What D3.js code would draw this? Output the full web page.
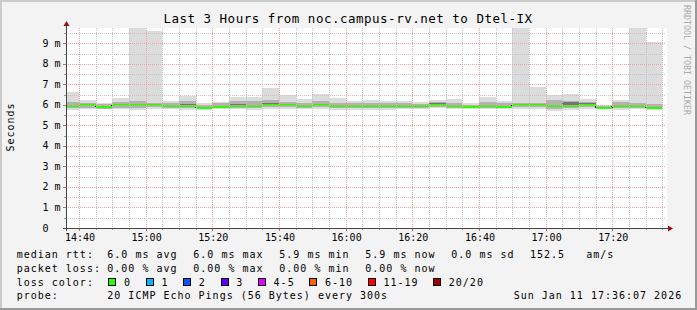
<!DOCTYPE html>
<html>
<head>
<meta charset="utf-8">
<script src="https://cdnjs.cloudflare.com/ajax/libs/d3/7.8.5/d3.min.js"></script>
<style>
body { margin: 0; background: #fff; }
text { font-family: "DejaVu Sans Mono", monospace; fill: #000; }
.leg { font-size: 10px; letter-spacing: 1px; }
.tick { font-size: 10px; }
</style>
</head>
<body>
<script>
// 5 minute slots, 14:35 .. 17:30 (values in ms)
var median = [5.95,5.98,5.90,5.98,5.98,5.98,5.95,5.95,5.87,5.92,5.96,5.94,5.98,5.98,5.95,5.98,5.95,5.96,
              5.96,5.96,5.96,5.96,6.00,5.96,5.90,5.93,5.90,5.98,5.98,5.95,5.95,6.00,5.87,5.94,5.93,5.87];
var pingMin = [5.76,5.80,5.80,5.80,5.78,5.80,5.80,5.78,5.78,5.80,5.80,5.76,5.80,5.82,5.80,5.82,5.78,5.76,
               5.78,5.78,5.80,5.80,5.84,5.80,5.80,5.80,5.80,5.82,5.82,5.72,5.78,5.80,5.82,5.78,5.80,5.74];
var pingLo = [5.84,5.86,5.82,5.86,5.86,5.88,5.86,5.85,5.82,5.84,5.86,5.84,5.88,5.88,5.86,5.88,5.83,5.84,
              5.84,5.85,5.86,5.86,5.90,5.86,5.83,5.84,5.83,5.88,5.88,5.82,5.85,5.88,5.84,5.84,5.86,5.80];
var coreLo = [5.90,5.94,5.86,5.94,5.93,5.95,5.92,5.92,5.85,5.89,5.93,5.90,5.95,5.94,5.92,5.96,5.90,5.92,
              5.91,5.92,5.92,5.92,5.97,5.93,5.86,5.90,5.87,5.95,5.95,5.90,5.93,5.96,5.86,5.90,5.91,5.85];
var coreHi = [6.02,6.04,5.95,6.04,6.03,6.02,5.99,6.05,5.92,5.97,6.05,6.00,6.10,6.04,6.00,6.06,6.00,6.00,
              6.00,6.00,6.00,5.99,6.10,6.02,5.94,6.00,5.95,6.02,6.03,6.02,6.16,6.08,5.92,6.00,5.98,5.92];
var pingHi = [6.14,6.12,6.05,6.15,6.20,6.10,6.10,6.18,6.02,6.08,6.20,6.18,6.25,6.15,6.12,6.20,6.12,6.10,
              6.12,6.10,6.08,6.06,6.14,6.12,6.02,6.15,6.08,6.10,6.12,6.22,6.20,6.15,5.96,6.15,6.10,6.05];
var pingMax = [6.65,6.24,6.08,6.36,12.0,9.61,6.21,6.45,6.10,6.15,6.40,6.39,6.83,6.49,6.29,6.54,6.34,6.20,
               6.24,6.20,6.20,6.13,6.24,6.29,6.10,6.39,6.20,12.0,6.88,6.47,6.54,6.29,5.99,6.24,12.0,9.06];

var yTicks = [0, 1, 2, 3, 4, 5, 6, 7, 8, 9];
var timeLabels = ["14:40","15:00","15:20","15:40","16:00","16:20","16:40","17:00","17:20"];
var rttStats = ["6.0 ms avg", "6.0 ms max", "5.9 ms min", "5.9 ms now", "0.0 ms sd"];
var lossStats = ["0.00 % avg", "0.00 % max", "0.00 % min", "0.00 % now"];
var lossLabels = ["0", "1", "2", "3", "4-5", "6-10", "11-19", "20/20"];
var lossColors = ["#26ff00", "#00b8ff", "#0059ff", "#5e00ff", "#e600ff", "#ff5e00", "#ff0000", "#a10000"];

var W = 697, H = 310;
var pL = 66, pR = 666, pT = 28, pB = 228;

var t0 = new Date(Date.UTC(2026, 0, 11, 14, 36, 7));
var t1 = new Date(Date.UTC(2026, 0, 11, 17, 36, 7));
var slotStart = d3.utcMinute.every(5).range(new Date(Date.UTC(2026, 0, 11, 14, 35)), new Date(Date.UTC(2026, 0, 11, 17, 35)));

var x = d3.scaleUtc().domain([t0, t1]).range([pL, pR]);
var y = d3.scaleLinear().domain([0, 9.756]).range([pB, pT]);

var svg = d3.select("body").append("svg").attr("width", W).attr("height", H);

svg.append("rect").attr("width", W).attr("height", H).attr("fill", "#f3f3f3");
svg.append("path").attr("d", "M0,1H" + W + "M1,0V" + H).attr("stroke", "#cbcbcb").attr("stroke-width", 2);
svg.append("path").attr("d", "M0," + (H - 1) + "H" + W + "M" + (W - 1) + ",0V" + H).attr("stroke", "#999").attr("stroke-width", 2);

svg.append("rect").attr("x", pL).attr("y", pT).attr("width", pR - pL + 1).attr("height", pB - pT).attr("fill", "#fff");

svg.append("defs").append("clipPath").attr("id", "plot")
  .append("rect").attr("x", pL).attr("y", pT).attr("width", pR - pL).attr("height", pB - pT);

var g = svg.append("g").attr("clip-path", "url(#plot)").attr("shape-rendering", "crispEdges");

function x0(i) { return Math.round(x(slotStart[i])); }
function x1(i) { return Math.round(x(d3.utcMinute.offset(slotStart[i], 5))); }

function band(lo, hi, color) {
  g.selectAll(null).data(slotStart).enter().append("rect")
    .attr("x", (d, i) => x0(i))
    .attr("width", (d, i) => x1(i) - x0(i))
    .attr("y", (d, i) => Math.round(y(hi[i])))
    .attr("height", (d, i) => Math.max(0, Math.round(y(lo[i])) - Math.round(y(hi[i]))))
    .attr("fill", color);
}
band(pingMin, pingMax, "#dcdcdc");
band(pingLo, pingHi, "#b2b2b2");
band(coreLo, coreHi, "#747474");

// median: black steps, green (0 loss) segments
g.selectAll(null).data(slotStart.slice(1)).enter().append("line")
  .attr("x1", (d, i) => x0(i + 1)).attr("x2", (d, i) => x0(i + 1))
  .attr("y1", (d, i) => Math.round(y(median[i]))).attr("y2", (d, i) => Math.round(y(median[i + 1])))
  .attr("stroke", "#111").attr("stroke-width", 2);
g.selectAll(null).data(slotStart).enter().append("rect")
  .attr("x", (d, i) => x0(i)).attr("width", (d, i) => x1(i) - x0(i))
  .attr("y", (d, i) => Math.round(y(median[i])) - 1).attr("height", 2)
  .attr("fill", lossColors[0]);

// grid
var grid = svg.append("g").attr("shape-rendering", "crispEdges").attr("stroke-dasharray", "1,1");
var minorV = d3.utcMinute.every(5).range(t0, t1);
minorV.forEach(function (t) {
  var major = t.getUTCMinutes() % 20 === 0;
  var px = Math.round(x(t)) + 0.5;
  grid.append("line").attr("x1", px).attr("x2", px).attr("y1", pT).attr("y2", pB)
    .attr("stroke", major ? "#f2a0a0" : "#c4c4c4");
  svg.append("line").attr("x1", px).attr("x2", px).attr("y1", pB).attr("y2", pB + (major ? 3 : 2))
    .attr("stroke", major ? "#e06060" : "#999").attr("shape-rendering", "crispEdges");
});
d3.range(1, 20).map(d => d / 2).forEach(function (v) {
  var major = v % 1 === 0;
  var py = Math.round(y(v)) + 0.5;
  grid.append("line").attr("x1", pL).attr("x2", pR).attr("y1", py).attr("y2", py)
    .attr("stroke", major ? "#f2a0a0" : "#c4c4c4");
  svg.append("line").attr("x1", pL - (major ? 3 : 2)).attr("x2", pL).attr("y1", py).attr("y2", py)
    .attr("stroke", major ? "#e06060" : "#999").attr("shape-rendering", "crispEdges");
});

// axes
svg.append("line").attr("x1", pL - 3).attr("x2", pR + 2).attr("y1", pB + 0.5).attr("y2", pB + 0.5)
  .attr("stroke", "#444").attr("shape-rendering", "crispEdges");
svg.append("line").attr("x1", pL + 0.5).attr("x2", pL + 0.5).attr("y1", pB + 3).attr("y2", pT - 2)
  .attr("stroke", "#444").attr("shape-rendering", "crispEdges");
svg.append("path").attr("d", "M" + (pR + 2) + "," + (pB - 2.5) + "l5,3l-5,3z").attr("fill", "#9b1010");
svg.append("path").attr("d", "M" + (pL - 2.5) + "," + (pT - 2) + "l3,-5l3,5z").attr("fill", "#9b1010");

// tick labels
svg.selectAll(null).data(yTicks).enter().append("text").attr("class", "tick")
  .attr("x", 42.5).attr("y", d => y(d) + 3.5)
  .text(d => d === 0 ? "0" : d + " m");

var labelTimes = d3.utcMinute.every(20).range(t0, t1);
svg.selectAll(null).data(labelTimes).enter().append("text").attr("class", "tick")
  .attr("x", d => x(d) + 1).attr("y", 241).attr("text-anchor", "middle")
  .text((d, i) => timeLabels[i]);

// title, axis label, watermark
svg.append("text").attr("x", 348).attr("y", 23).attr("text-anchor", "middle")
  .style("font-size", "12.5px").style("letter-spacing", "0.5px")
  .text("Last 3 Hours from noc.campus-rv.net to Dtel-IX");
svg.append("text").attr("class", "leg").attr("text-anchor", "middle")
  .attr("transform", "translate(14,127) rotate(-90)").text("Seconds");
svg.append("text").attr("transform", "translate(684,5) rotate(90)")
  .style("font-size", "8.3px").style("fill", "#aaa")
  .text("RRDTOOL / TOBI OETIKER");

// legend
var col = 107.3, step = 86, row = [258.3, 272, 286, 299.3];
function leg(tx, ty, s) {
  svg.append("text").attr("class", "leg").attr("x", tx).attr("y", ty).attr("xml:space", "preserve").text(s);
}
leg(16.7, row[0], "median rtt:");
rttStats.forEach((s, i) => leg(col + i * step, row[0], s));
leg(530, row[0], "152.5   am/s");
leg(16.7, row[1], "packet loss:");
lossStats.forEach((s, i) => leg(col + i * step, row[1], s));
leg(16.7, row[2], "loss color:");
var bx = 108.3;
lossLabels.forEach(function (s, i) {
  svg.append("rect").attr("x", bx + 0.5).attr("y", row[2] - 7.5).attr("width", 7).attr("height", 7)
    .attr("fill", lossColors[i]).attr("stroke", "#000").attr("shape-rendering", "crispEdges");
  leg(bx + 15.7, row[2], s);
  bx += 15.7 + s.length * 7 + 14.7;
});
leg(16.7, row[3], "probe:");
leg(col, row[3], "20 ICMP Echo Pings (56 Bytes) every 300s");
leg(513.7, row[3], "Sun Jan 11 17:36:07 2026");
</script>
</body>
</html>
